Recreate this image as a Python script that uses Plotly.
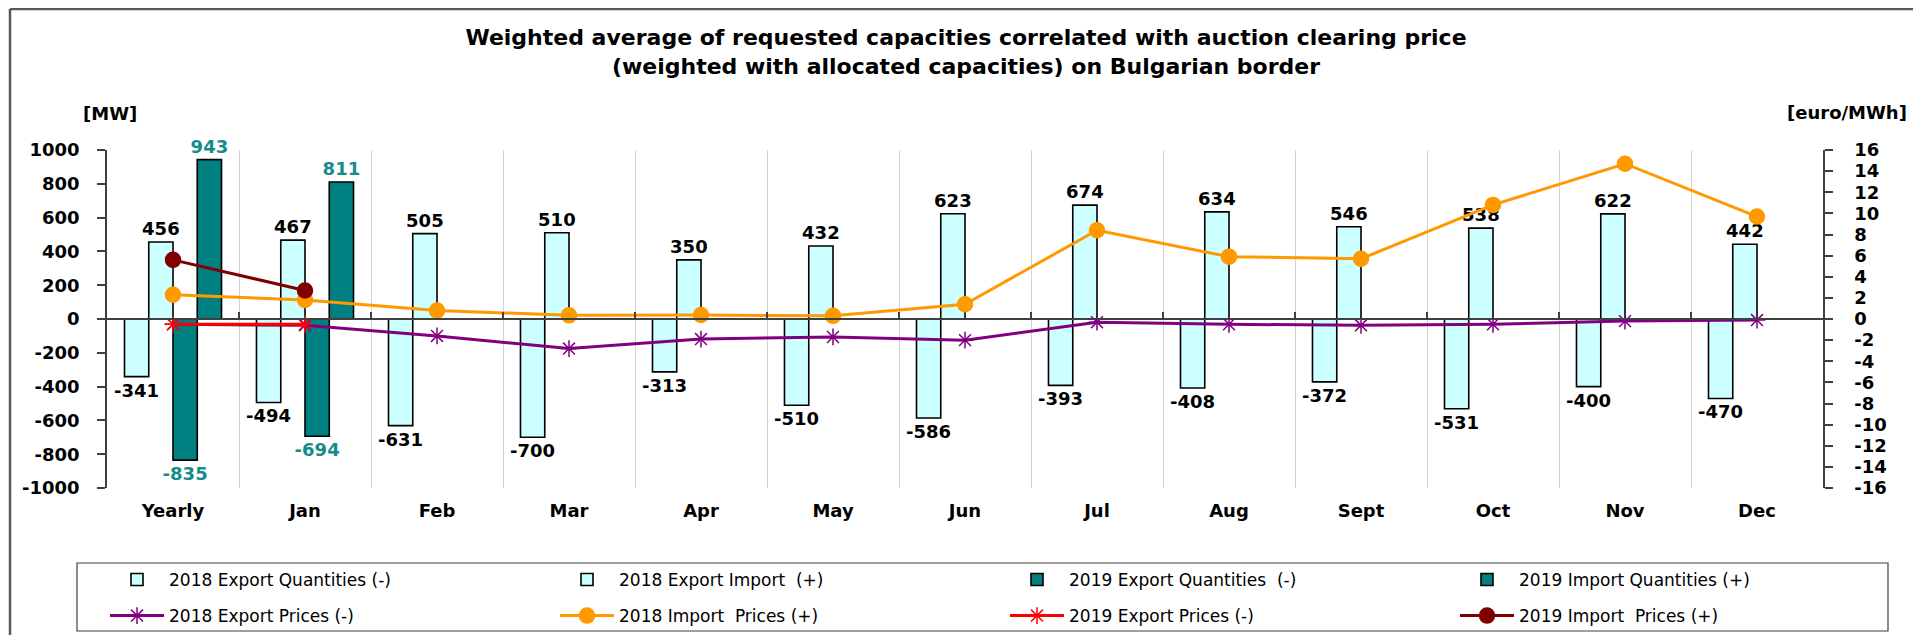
import plotly.graph_objects as go

categories = ["Yearly", "Jan", "Feb", "Mar", "Apr", "May", "Jun", "Jul", "Aug", "Sept", "Oct", "Nov", "Dec"]
export_qty_2018 = [-341, -494, -631, -700, -313, -510, -586, -393, -408, -372, -531, -400, -470]
import_qty_2018 = [456, 467, 505, 510, 350, 432, 623, 674, 634, 546, 538, 622, 442]
export_qty_2019 = [-835, -694, None, None, None, None, None, None, None, None, None, None, None]
import_qty_2019 = [943, 811, None, None, None, None, None, None, None, None, None, None, None]
export_price_2018 = [-0.5, -0.6, -1.6, -2.8, -1.9, -1.7, -2.0, -0.3, -0.5, -0.6, -0.5, -0.2, -0.1]
import_price_2018 = [2.3, 1.8, 0.8, 0.35, 0.38, 0.3, 1.4, 8.4, 5.9, 5.7, 10.8, 14.7, 9.7]
export_price_2019 = [-0.5, -0.5, None, None, None, None, None, None, None, None, None, None, None]
import_price_2019 = [5.6, 2.7, None, None, None, None, None, None, None, None, None, None, None]

mw_tickvals = [-1000, -800, -600, -400, -200, 0, 200, 400, 600, 800, 1000]
mw_ticktext = ["-1000", "-800", "-600", "-400", "-200", "0", "200", "400", "600", "800", "1000"]
eur_tickvals = [-16, -14, -12, -10, -8, -6, -4, -2, 0, 2, 4, 6, 8, 10, 12, 14, 16]
eur_ticktext = ["-16", "-14", "-12", "-10", "-8", "-6", "-4", "-2", "0", "2", "4", "6", "8", "10", "12", "14", "16"]

# page body has an 8px default margin: work in screen pixels, convert to figure pixels
OFF = 8
SW, SH = 1921, 643
W, H = SW - 2 * OFF, SH - 2 * OFF
L, R, T, B = 107 - OFF, 1823 - OFF, 150 - OFF, 488 - OFF
PW, PH = R - L, B - T


def px(xs):
    return ((xs - OFF) - L) / PW


def py(ys):
    return (B - (ys - OFF)) / PH


FONT = "DejaVu Sans"
BOLD = dict(family=FONT, size=18, color="black", weight="bold")
TEAL_TXT = "#158c8c"

fig = go.Figure()


def labels(vals):
    return ["" if v is None else str(v) for v in vals]


def bar(name, vals, fill, txtcol):
    return go.Bar(
        name=name, x=categories, y=vals, text=labels(vals), texttemplate="%{text}",
        marker=dict(color=fill, line=dict(color="black", width=1.6)),
        textposition="outside", cliponaxis=False, constraintext="none",
        textfont=dict(family=FONT, size=18, color=txtcol, weight="bold"),
        legend="legend", xaxis="x", yaxis="y", hoverinfo="skip",
    )


fig.add_trace(bar("2018 Export Quantities (-)", export_qty_2018, "#CCFFFF", "black"))
fig.add_trace(bar("2018 Export Import  (+)", import_qty_2018, "#CCFFFF", "black"))
fig.add_trace(bar("2019 Export Quantities  (-)", export_qty_2019, "#008080", TEAL_TXT))
fig.add_trace(bar("2019 Import Quantities (+)", import_qty_2019, "#008080", TEAL_TXT))


def line(name, vals, color, symbol, size):
    return go.Scatter(
        name=name, x=categories, y=vals, mode="lines+markers",
        line=dict(color=color, width=3),
        marker=dict(symbol=symbol, size=size, color=color, line=dict(color=color, width=1.5)),
        legend="legend2", xaxis="x2", yaxis="y2", cliponaxis=False, hoverinfo="skip",
    )


fig.add_trace(line("2018 Export Prices (-)", export_price_2018, "#800080", "asterisk-open", 14))
fig.add_trace(line("2018 Import  Prices (+)", import_price_2018, "#FF9900", "circle", 15))
fig.add_trace(line("2019 Export Prices (-)", export_price_2019, "#FF0000", "asterisk-open", 14))
fig.add_trace(line("2019 Import  Prices (+)", import_price_2019, "#800000", "circle", 15))

legend_common = dict(
    orientation="h", xanchor="left", yanchor="middle", bgcolor="rgba(0,0,0,0)", borderwidth=0,
    font=dict(family=FONT, size=17, color="black"),
    entrywidth=381, entrywidthmode="pixels", itemwidth=54, traceorder="normal",
    itemclick=False, itemdoubleclick=False,
)

fig.update_layout(
    width=W, height=H,
    paper_bgcolor="white", plot_bgcolor="white",
    margin=dict(l=L, r=W - R, t=T, b=H - B, autoexpand=False),
    barmode="group", bargap=0.265, bargroupgap=0,
    title=dict(
        text="Weighted average of requested capacities correlated with auction clearing price<br>(weighted with allocated capacities) on Bulgarian border",
        x=(966 - OFF) / W, xanchor="center", xref="container",
        y=1 - 37 / H, yanchor="top", yref="container",
        font=dict(family=FONT, size=22, color="black", weight="bold"),
    ),
    xaxis=dict(
        type="category", categoryorder="array", categoryarray=categories, range=[-0.5, 12.5],
        showgrid=True, gridcolor="#d4d4d4", gridwidth=1, tickson="boundaries", ticks="",
        showline=False, zeroline=False, tickfont=BOLD, ticklabelstandoff=10, fixedrange=True,
    ),
    xaxis2=dict(
        type="category", categoryorder="array", categoryarray=categories, range=[-0.5, 12.5],
        overlaying="x", anchor="free", position=0.5, side="bottom",
        showgrid=False, showline=True, linecolor="#404040", linewidth=1.5,
        ticks="inside", ticklen=6, tickwidth=1.5, tickcolor="#404040", tickson="boundaries",
        showticklabels=False, zeroline=False, fixedrange=True,
    ),
    yaxis=dict(
        range=[-1000, 1000], tickmode="array", tickvals=mw_tickvals, ticktext=mw_ticktext,
        showgrid=False, zeroline=False,
        showline=True, linecolor="#404040", linewidth=1.5,
        ticks="outside", ticklen=8, tickwidth=1.5, tickcolor="#404040",
        tickfont=BOLD, ticklabelstandoff=14, fixedrange=True,
    ),
    yaxis2=dict(
        range=[-16, 16], tickmode="array", tickvals=eur_tickvals, ticktext=eur_ticktext,
        overlaying="y", side="right", anchor="x",
        showgrid=False, zeroline=False,
        showline=True, linecolor="#404040", linewidth=1.5,
        ticks="outside", ticklen=8, tickwidth=1.5, tickcolor="#404040",
        tickfont=BOLD, ticklabelstandoff=18, fixedrange=True,
    ),
    legend=dict(x=px(105), y=py(580), **legend_common),
    legend2=dict(x=px(105), y=py(616), **legend_common),
    showlegend=True,
)

# axis unit labels
fig.add_annotation(text="[MW]", x=px(110), y=py(113), xref="paper", yref="paper",
                   xanchor="center", yanchor="middle", showarrow=False, font=BOLD)
fig.add_annotation(text="[euro/MWh]", x=px(1847), y=py(112), xref="paper", yref="paper",
                   xanchor="center", yanchor="middle", showarrow=False, font=BOLD)

# outer chart frame (top and left edges visible)
fig.add_shape(type="line", xref="paper", yref="paper", x0=px(10), x1=px(SW + 20), y0=py(9), y1=py(9),
              line=dict(color="#5a5a5a", width=2.5))
fig.add_shape(type="line", xref="paper", yref="paper", x0=px(10), x1=px(10), y0=py(9), y1=py(SH + 20),
              line=dict(color="#5a5a5a", width=2.5))
# legend frame
fig.add_shape(type="rect", xref="paper", yref="paper", x0=px(77), x1=px(1888), y0=py(563), y1=py(631),
              line=dict(color="#404040", width=1.2), fillcolor="rgba(0,0,0,0)", layer="below")

fig.write_html("out.html")
